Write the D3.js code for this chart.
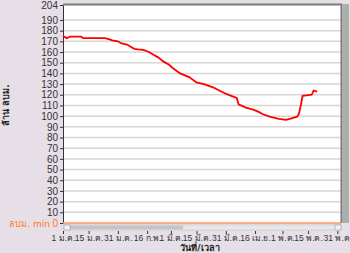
<!DOCTYPE html>
<html>
<head>
<meta charset="utf-8">
<script src="https://cdn.jsdelivr.net/npm/d3@7"></script>
<style>
  body { margin: 0; background: #e7dfe7; }
  svg { display: block; font-family: Tahoma, "DejaVu Sans", sans-serif; }
</style>
</head>
<body>
<svg id="chart"></svg>
<script>
// ปริมาตรน้ำ (ล้าน ลบม.) ตามวันที่
const dates = ["2023-01-01","2023-01-03","2023-01-05","2023-01-11","2023-01-12","2023-01-24","2023-01-26","2023-01-28",
  "2023-01-31","2023-02-02","2023-02-05","2023-02-07","2023-02-09","2023-02-11","2023-02-14","2023-02-17","2023-02-19",
  "2023-02-22","2023-02-25","2023-02-28","2023-03-02","2023-03-04","2023-03-06","2023-03-11","2023-03-15","2023-03-19",
  "2023-03-24","2023-03-28","2023-03-31","2023-04-03","2023-04-06","2023-04-07","2023-04-11","2023-04-15","2023-04-18",
  "2023-04-20","2023-04-24","2023-04-29","2023-05-03","2023-05-05","2023-05-09","2023-05-10","2023-05-11","2023-05-12",
  "2023-05-14","2023-05-17","2023-05-18","2023-05-20"];
const volume = [175,173,174.5,174.5,173,173,172,171,
  170,168,167,165,163,162.5,162,160,158,
  155,151,148,145,142.5,140,136.5,131.5,130,
  127,123.5,121,119,117,111,108,106,104,
  102,99.5,97.5,96.5,97.5,99.5,102,110,119,
  119.5,120,124,123];

const tickDates = ["2023-01-01","2023-01-15","2023-01-31","2023-02-16","2023-03-01","2023-03-15","2023-03-31",
  "2023-04-16","2023-05-01","2023-05-15","2023-05-31"];
const thaiMonths = ["ม.ค.","ก.พ.","มี.ค.","เม.ย.","พ.ค.","มิ.ย."];
const yTicks = [0,10,20,30,40,50,60,70,80,90,100,110,120,130,140,150,160,170,180,190,204];
const minLevel = 0;

const width = 350, height = 253;
const margin = {top: 4, right: 9, bottom: 30, left: 63};
const parse = d3.timeParse("%Y-%m-%d");

const svg = d3.select("#chart").attr("width", width).attr("height", height);

const x = d3.scaleTime()
  .domain([parse("2023-01-01"), parse("2023-06-02")])
  .range([margin.left, width - margin.right]);
const y = d3.scaleLinear()
  .domain([0, 204])
  .range([223, margin.top + 1]);

// พื้นที่กราฟ
svg.append("rect")
  .attr("x", margin.left).attr("y", margin.top)
  .attr("width", x.range()[1] - margin.left)
  .attr("height", y(0) - margin.top)
  .attr("fill", "#fff");

// เส้นกริด
svg.append("g").selectAll("line")
  .data(yTicks.filter(d => d > 0 && d < 204))
  .join("line")
  .attr("x1", margin.left).attr("x2", x.range()[1])
  .attr("y1", d => y(d)).attr("y2", d => y(d))
  .attr("stroke", "#d6d6d6").attr("stroke-width", 1.5);

// แกน y
const yAxis = svg.append("g")
  .attr("transform", `translate(${margin.left},0)`)
  .call(d3.axisLeft(y).tickValues(yTicks).tickSize(3).tickPadding(2));
yAxis.select(".domain").attr("stroke", "#333");
yAxis.selectAll(".tick line").attr("stroke", "#333");
yAxis.selectAll("text").attr("font-size", 10).attr("fill", "#333");
yAxis.selectAll(".tick").filter(d => d === minLevel).select("text").attr("fill", "#ff7a1a");

svg.append("text")
  .attr("x", margin.left - 13).attr("y", y(minLevel) + 3.5)
  .attr("text-anchor", "end").attr("font-size", 9).attr("fill", "#ff7a1a")
  .text("ลบม. min");

// ขอบบน ขวา
svg.append("line")
  .attr("x1", margin.left).attr("x2", x.range()[1] + 1)
  .attr("y1", margin.top + 0.5).attr("y2", margin.top + 0.5)
  .attr("stroke", "#7a7a7a").attr("stroke-width", 2);
svg.append("line")
  .attr("x1", x.range()[1] + 0.5).attr("x2", x.range()[1] + 0.5)
  .attr("y1", margin.top).attr("y2", y(0))
  .attr("stroke", "#7a7a7a").attr("stroke-width", 2);
svg.append("rect")
  .attr("x", x.range()[1] + 2).attr("y", margin.top)
  .attr("width", 6).attr("height", y(0) - margin.top)
  .attr("fill", "#aab0aa");

// เส้นระดับต่ำสุด
svg.append("line")
  .attr("x1", margin.left).attr("x2", x.range()[1])
  .attr("y1", y(minLevel)).attr("y2", y(minLevel))
  .attr("stroke", "#ff9a5a").attr("stroke-width", 1.5);

// แถบเลื่อน
const sbY = y(0) + 2;
svg.append("rect").attr("x", margin.left + 1).attr("y", sbY).attr("width", x.range()[1] - margin.left - 1).attr("height", 5)
  .attr("fill", "#e8e8e8").attr("stroke", "#bbb").attr("stroke-width", 0.5);
svg.append("rect").attr("x", margin.left + 7).attr("y", sbY + 0.5).attr("width", 113).attr("height", 4)
  .attr("fill", "#c4c4c4");
svg.append("rect").attr("x", margin.left + 1).attr("y", sbY).attr("width", 6).attr("height", 5).attr("fill", "#f2f2f2").attr("stroke", "#888").attr("stroke-width", 0.5);
svg.append("rect").attr("x", x.range()[1] - 6).attr("y", sbY).attr("width", 6).attr("height", 5).attr("fill", "#f2f2f2").attr("stroke", "#888").attr("stroke-width", 0.5);

// แกน x
const xAxis = svg.append("g")
  .attr("transform", `translate(0,${sbY + 6})`)
  .call(d3.axisBottom(x)
    .tickValues(tickDates.map(parse))
    .tickSize(3).tickPadding(1)
    .tickFormat(d => d.getDate() + " " + thaiMonths[d.getMonth()]));
xAxis.select(".domain").remove();
xAxis.selectAll(".tick line").attr("stroke", "#333");
xAxis.selectAll("text").attr("font-size", 8.5).attr("fill", "#333");

// เส้นข้อมูล
const line = d3.line()
  .x((d, i) => x(parse(dates[i])))
  .y(d => y(d));
svg.append("path")
  .datum(volume)
  .attr("d", line)
  .attr("fill", "none")
  .attr("stroke", "#ff0000")
  .attr("stroke-width", 1.8);

// ชื่อแกน
svg.append("text")
  .attr("x", 200).attr("y", 251)
  .attr("text-anchor", "middle").attr("font-size", 9).attr("font-weight", "bold").attr("fill", "#222")
  .text("วันที่/เวลา");
svg.append("text")
  .attr("transform", `translate(9,${105}) rotate(-90)`)
  .attr("text-anchor", "middle").attr("font-size", 9).attr("font-weight", "bold").attr("fill", "#222")
  .text("ล้าน ลบม.");
</script>
</body>
</html>
